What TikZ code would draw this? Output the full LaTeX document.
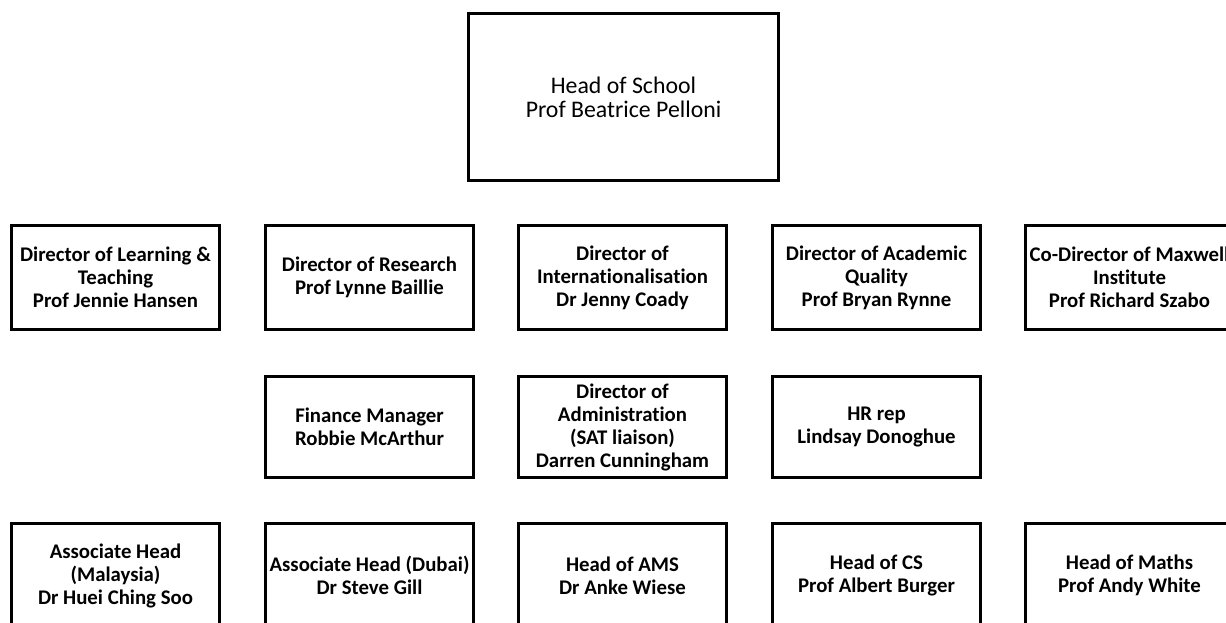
\documentclass[tikz,border=0pt]{standalone}
\usepackage{fontspec}
\setmainfont{Carlito}[Ligatures=NoCommon]
\usepackage{tikz}
\tikzset{
  every picture/.style={line join=miter},
  post/.style={draw, line width=3pt, rectangle, align=center, inner sep=0pt,
    minimum width=208pt, minimum height=104pt, font=\fontsize{20.8}{23}\selectfont\bfseries},
  headpost/.style={post, minimum width=310pt, minimum height=167pt,
    font=\fontsize{23.8}{24}\selectfont},
}

\begin{document}
\begin{tikzpicture}[x=1pt,y=-1pt]
\useasboundingbox (0,0) rectangle (1226,623);
\clip (0,0) rectangle (1226,623);
% head of school
\node[headpost] (hos) at (623.5,97) {Head of School\\Prof Beatrice Pelloni};
% directors
\node[post] (dlt) at (115.5,277.5) {Director of Learning \&\\Teaching\\Prof Jennie Hansen};
\node[post] (dres) at (369.5,277.5) {Director of Research\\Prof Lynne Baillie};
\node[post] (dint) at (622.5,277.5) {Director of\\Internationalisation\\Dr Jenny Coady};
\node[post] (daq) at (876.5,277.5) {Director of Academic\\Quality\\Prof Bryan Rynne};
\node[post] (maxw) at (1129.5,277.5) {Co-Director of Maxwell\\Institute\\Prof Richard Szabo};
% support
\node[post, minimum height=101pt] (fin) at (369.5,427) {Finance Manager\\Robbie McArthur};
\node[post, minimum height=101pt] (dadm) at (622.5,427) {Director of\\Administration\\(SAT liaison)\\Darren Cunningham};
\node[post, minimum height=101pt] (hr) at (876.5,427) {HR rep\\Lindsay Donoghue};
% heads
\node[post] (ahm) at (115.5,575.5) {Associate Head\\(Malaysia)\\Dr Huei Ching Soo};
\node[post] (ahd) at (369.5,575.5) {Associate Head (Dubai)\\Dr Steve Gill};
\node[post] (hams) at (622.5,575.5) {Head of AMS\\Dr Anke Wiese};
\node[post] (hcs) at (876.5,575.5) {Head of CS\\Prof Albert Burger};
\node[post] (hmath) at (1129.5,575.5) {Head of Maths\\Prof Andy White};
\end{tikzpicture}
\end{document}
